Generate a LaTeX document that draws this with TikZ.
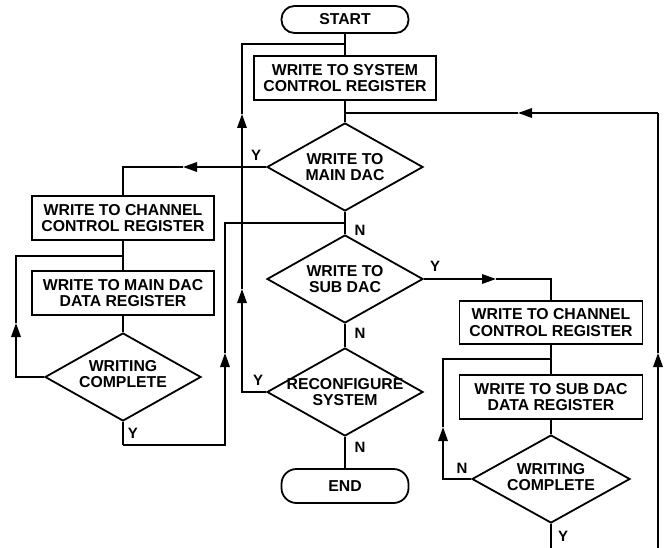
\documentclass[tikz,border=0pt]{standalone}
\usepackage{fontspec}
\setmainfont{Liberation Sans}
\usetikzlibrary{shapes.geometric,arrows.meta}
\begin{document}
\begin{tikzpicture}[x=1pt,y=-1pt,
  every node/.style={font=\bfseries\fontsize{15.8}{16.5}\selectfont},
  ln/.style={line width=1.8pt},
  arr/.style={ln,-{Triangle[length=14pt,width=9.5pt]}},
  boxnode/.style={draw,line width=1.8pt,rectangle,minimum width=182pt,minimum height=44pt,inner sep=0pt,align=center},
  term/.style={draw,line width=1.8pt,rectangle,rounded corners=13pt,minimum width=127pt,inner sep=0pt},
  dia/.style={draw,line width=1.8pt,diamond,minimum width=156pt,minimum height=88pt,inner sep=0pt},
  txt/.style={align=center,inner sep=0pt},
  yn/.style={inner sep=0pt,font=\bfseries\fontsize{15}{16}\selectfont}]
\useasboundingbox (0,0) rectangle (666,548);

% nodes
\node[term,minimum height=27pt] (start) at (345,19.5) {START};
\node[boxnode] (sys) at (345,78) {WRITE TO SYSTEM\\CONTROL REGISTER};
\node[dia] (d1) at (345,167) {};
\node[txt] at (d1) {WRITE TO\\MAIN DAC};
\node[boxnode] (chL) at (123,218) {WRITE TO CHANNEL\\CONTROL REGISTER};
\node[boxnode] (mainL) at (123,293) {WRITE TO MAIN DAC\\DATA REGISTER};
\node[dia] (wcL) at (123,377) {};
\node[txt] at (123,374) {WRITING\\COMPLETE};
\node[dia] (d2) at (345,279) {};
\node[txt] at (d2) {WRITE TO\\SUB DAC};
\node[dia] (d3) at (345,392) {};
\node[txt] at (d3) {RECONFIGURE\\SYSTEM};
\node[term,rounded corners=15pt,minimum height=34pt] (end) at (345,486) {END};
\node[boxnode,minimum width=183pt,minimum height=43pt] (chR) at (551,322.5) {WRITE TO CHANNEL\\CONTROL REGISTER};
\node[boxnode,minimum width=183pt] (subR) at (551,397) {WRITE TO SUB DAC\\DATA REGISTER};
\node[dia,minimum width=158pt] (wcR) at (551,479) {};
\node[txt] at (551,477) {WRITING\\COMPLETE};

% coordinates
\coordinate (j1) at (345,44);
\coordinate (j2) at (345,113);
\coordinate (jN) at (345,223);
\coordinate (jL) at (123,256);
\coordinate (jR) at (551,359);
\coordinate (rb) at (658,548);
\coordinate (rt) at (658,113);
\coordinate (aR1) at (658,353);
\coordinate (aR2) at (518,113);
\coordinate (aY1) at (183,167);
\coordinate (aL1) at (16,323);
\coordinate (bL1) at (123,445);
\coordinate (aL2) at (225,353);
\coordinate (aY2) at (496,279);
\coordinate (aC1) at (242,289);
\coordinate (aC2) at (242,114);
\coordinate (aR3) at (443,427);
\coordinate (bR) at (551,548);

% main column
\draw[ln] (start.south) -- (sys.north);
\draw[ln] (sys.south) -- (d1.north);
\draw[ln] (d1.south) -- (d2.north);
\draw[ln] (d2.south) -- (d3.north);
\draw[ln] (d3.south) -- (end.north);

% right return loop
\draw[arr] (rb) -- (aR1);
\draw[ln] (aR1) -- (rt);
\draw[arr] (rt) -- (aR2);
\draw[ln] (aR2) -- (j2);

% left branch (main DAC)
\draw[arr] (d1.west) -- (aY1);
\draw[ln] (aY1) -| (chL.north);
\draw[ln] (chL.south) -- (mainL.north);
\draw[ln] (mainL.south) -- (wcL.north);
\draw[arr] (wcL.west) -| (aL1);
\draw[ln] (aL1) |- (jL);
\draw[ln] (wcL.south) -- (bL1);
\draw[arr] (bL1) -| (aL2);
\draw[ln] (aL2) |- (jN);

% reconfigure loop
\draw[arr] (d3.west) -| (aC1);
\draw[arr] (aC1) -- (aC2);
\draw[ln] (aC2) |- (j1);

% right branch (sub DAC)
\draw[arr] (d2.east) -- (aY2);
\draw[ln] (aY2) -| (chR.north);
\draw[ln] (chR.south) -- (subR.north);
\draw[ln] (subR.south) -- (wcR.north);
\draw[arr] (wcR.west) -| (aR3);
\draw[ln] (aR3) |- (jR);
\draw[ln] (wcR.south) -- (bR);

% labels
\node[yn] at (256,155) {Y};
\node[yn] at (360,230) {N};
\node[yn] at (435,266) {Y};
\node[yn] at (360,333) {N};
\node[yn] at (258,380) {Y};
\node[yn] at (360,447) {N};
\node[yn] at (133,433) {Y};
\node[yn] at (462,468) {N};
\node[yn] at (563,536) {Y};
\end{tikzpicture}
\end{document}
